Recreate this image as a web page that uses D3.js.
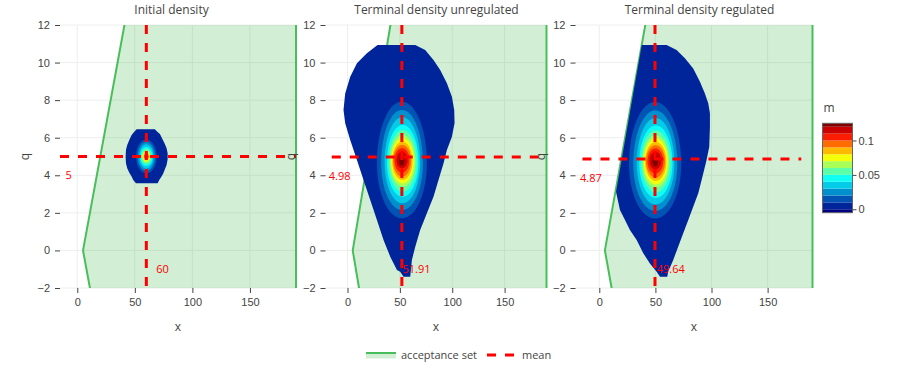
<!DOCTYPE html>
<html>
<head>
<meta charset="utf-8">
<script src="https://cdn.jsdelivr.net/npm/d3@7"></script>
<style>
  body { margin: 0; background: #fff; }
  svg { font-family: "Open Sans", verdana, arial, sans-serif; }
</style>
</head>
<body>
<svg id="chart" width="900" height="380"></svg>
<script>
// ---------- data ----------
const titles = ["Initial density", "Terminal density unregulated", "Terminal density regulated"];
const xTicks = [0, 50, 100, 150];
const qTicks = [-2, 0, 2, 4, 6, 8, 10, 12];
const cbTicks = [0, 0.05, 0.1];

// contour levels of the density m
const contourLevels = [0, 0.01, 0.02, 0.03, 0.04, 0.05, 0.06, 0.07, 0.08, 0.09, 0.1, 0.11, 0.12];

// jet colorscale stops
const jetStops = [
  [0, "rgb(0,0,131)"], [0.125, "rgb(0,60,170)"], [0.375, "rgb(5,255,255)"],
  [0.625, "rgb(255,255,0)"], [0.875, "rgb(250,0,0)"], [1, "rgb(128,0,0)"]
];

// acceptance set polygon (x, q)
const acceptX = [14, 5, 44, 190, 190];
const acceptQ = [-3, 0, 13, 13, -3];

// means
const meanX = [60, 51.91, 49.64];
const meanQ = [5, 4.98, 4.87];
const meanLineXStart = [-15, -15, -15];
const meanLineXEnd = [190, 190, 180];

// outline of the support (m >= 0), [x, q]
const outlineInitial = [
  [51.6, 6.45], [67.4, 6.45], [69.5, 6.32], [71.8, 6.2], [73.2, 6.02], [74.7, 5.84], [76.1, 5.67],
  [77.6, 5.44], [78.5, 5.17], [78.5, 4.85], [77.6, 4.55], [76.1, 4.32], [74.7, 4.1], [73.2, 3.93],
  [71.2, 3.75], [69.8, 3.57], [51.0, 3.57], [48.6, 3.75], [47.2, 3.93], [45.2, 4.14], [43.4, 4.37],
  [42.3, 4.64], [42.0, 4.99], [42.3, 5.35], [43.4, 5.61], [45.2, 5.88], [47.2, 6.14], [49.5, 6.32]
];
const outlineUnreg = [
  [28.7, 10.94], [64.7, 10.94], [74.2, 10.67], [82.1, 10.14], [88.5, 9.6], [94.9, 8.9], [99.7, 8.18],
  [101.9, 7.48], [102.2, 6.77], [99.7, 6.05], [94.9, 5.35], [91.7, 4.64], [86.9, 3.75], [82.1, 2.86],
  [75.8, 1.98], [69.4, 1.09], [64.7, 0.2], [61.5, -0.51], [59.9, -1.4], [53.5, -1.4], [50.3, -1.13],
  [47.2, -1.04], [40.8, -0.33], [34.4, 0.56], [28.1, 1.62], [21.7, 2.68], [15.3, 3.75], [9.0, 4.81],
  [2.6, 5.88], [-2.2, 6.77], [-3.8, 7.48], [-2.2, 8.36], [2.6, 9.25], [9.0, 9.96], [18.5, 10.49]
];
const outlineReg = [
  [37.8, 10.94], [60.0, 10.94], [68.9, 10.67], [76.3, 10.23], [83.7, 9.69], [89.7, 8.98], [94.1, 8.36],
  [97.1, 7.83], [98.6, 7.3], [98.6, 6.59], [98.0, 5.52], [95.6, 4.81], [91.2, 3.75], [88.2, 3.04],
  [83.7, 2.33], [79.3, 1.62], [74.8, 0.91], [70.3, 0.2], [65.9, -0.51], [61.4, -1.13], [60.6, -1.4],
  [54.1, -1.4], [51.1, -1.13], [45.1, -0.69], [39.2, -0.15], [33.3, 0.56], [27.3, 1.09], [22.9, 1.62],
  [18.4, 2.15], [14.9, 3.13]
];

// level sets m >= 0.01 ... 0.12 : [xLeft, xRight, qTop, qBottom, qWidest]
const bandsInitial = [
  [51.0, 69.0, 5.90, 4.10, 5.0], [52.5, 67.5, 5.77, 4.23, 5.0], [53.8, 66.2, 5.65, 4.35, 5.0],
  [54.6, 65.4, 5.51, 4.49, 5.0], [55.7, 64.3, 5.42, 4.58, 5.0], [56.2, 63.8, 5.33, 4.67, 5.0],
  [57.0, 63.0, 5.27, 4.73, 5.0], [57.5, 62.5, 5.21, 4.79, 5.0], [58.0, 62.0, 5.17, 4.83, 5.0],
  [58.4, 61.6, 5.12, 4.88, 5.0], [58.7, 61.3, 5.09, 4.91, 5.0], [59.1, 60.9, 5.07, 4.93, 5.0]
];
const bandsUnreg = [
  [28.1, 75.8, 7.92, 1.71, 4.65], [32.2, 72.0, 7.48, 2.15, 4.65], [35.4, 69.4, 7.09, 2.51, 4.7],
  [37.6, 67.8, 6.68, 2.86, 4.7], [39.2, 66.3, 6.41, 3.13, 4.7], [40.5, 64.7, 6.14, 3.39, 4.75],
  [41.7, 63.4, 5.97, 3.57, 4.75], [42.7, 62.1, 5.79, 3.75, 4.75], [43.6, 60.8, 5.61, 3.93, 4.8],
  [44.9, 59.2, 5.44, 4.14, 4.8], [46.8, 57.3, 5.26, 4.37, 4.8], [49.2, 54.4, 5.15, 4.5, 4.8]
];
const bandsReg = [
  [26.5, 73.0, 7.90, 1.70, 4.6], [30.3, 69.5, 7.45, 2.10, 4.6], [33.4, 66.9, 7.05, 2.45, 4.65],
  [35.6, 65.2, 6.65, 2.80, 4.65], [37.2, 63.7, 6.38, 3.08, 4.7], [38.6, 62.2, 6.12, 3.34, 4.7],
  [39.8, 61.0, 5.95, 3.52, 4.72], [40.8, 59.8, 5.77, 3.70, 4.72], [41.7, 58.6, 5.60, 3.88, 4.75],
  [43.0, 57.0, 5.43, 4.10, 4.75], [44.8, 55.2, 5.25, 4.32, 4.78], [47.3, 52.3, 5.13, 4.47, 4.78]
];

const outlines = [outlineInitial, outlineUnreg, outlineReg];
const bands = [bandsInitial, bandsUnreg, bandsReg];

// ---------- layout ----------
const svg = d3.select("#chart");
const plotTop = 25, plotBottom = 288;
const panels = [
  { left: 60, right: 296, xMin: -15, titleX: 171.5 },
  { left: 325.5, right: 546.5, xMin: -21, titleX: 436.5 },
  { left: 575.5, right: 812.5, xMin: -21.2, titleX: 699.5 }
];
const xMax = 190;
const textColor = "#444";
const green = "rgb(72,190,90)";
const greenFill = "rgba(60,180,75,0.23)";

const y = d3.scaleLinear().domain([-2, 12]).range([plotBottom, plotTop]);

// jet colour for band k out of 14 (k=0 below first level, k=13 above last)
const jet = d3.scaleLinear()
  .domain(jetStops.map(d => d[0]))
  .range(jetStops.map(d => d[1]))
  .interpolate(d3.interpolateRgb);
const nBands = contourLevels.length + 1;
const bandColor = k => jet(k / (nBands - 1));

// egg shaped closed curve for one level set
function eggPoints(b) {
  const [xl, xr, qt, qb, qm] = b;
  const cx = (xl + xr) / 2, rx = (xr - xl) / 2;
  const pts = [];
  for (let i = 0; i < 90; i++) {
    const t = i / 90 * 2 * Math.PI;
    const s = Math.sin(t);
    pts.push([cx + rx * Math.cos(t), qm + (s > 0 ? qt - qm : qm - qb) * s]);
  }
  return pts;
}

const defs = svg.append("defs");

panels.forEach((p, i) => {
  const x = d3.scaleLinear().domain([p.xMin, xMax]).range([p.left, p.right]);
  const line = d3.line().x(d => x(d[0])).y(d => y(d[1])).curve(d3.curveLinearClosed);
  const g = svg.append("g");

  defs.append("clipPath").attr("id", "clip" + i)
    .append("rect")
    .attr("x", p.left - 3).attr("y", plotTop)
    .attr("width", p.right - p.left + 6).attr("height", plotBottom - plotTop);

  // grid
  g.append("g").selectAll("line").data(xTicks).join("line")
    .attr("x1", d => x(d)).attr("x2", d => x(d))
    .attr("y1", plotTop).attr("y2", plotBottom)
    .attr("stroke", "#eee");
  g.append("g").selectAll("line").data(qTicks).join("line")
    .attr("x1", p.left).attr("x2", p.right)
    .attr("y1", d => y(d)).attr("y2", d => y(d))
    .attr("stroke", "#eee");

  const plot = g.append("g").attr("clip-path", `url(#clip${i})`);

  // acceptance set
  const accept = acceptX.map((v, j) => [v, acceptQ[j]]);
  plot.append("path").attr("d", line(accept))
    .attr("fill", greenFill).attr("stroke", green).attr("stroke-width", 2);

  // density: support then the level sets
  plot.append("path").attr("d", line(outlines[i]))
    .attr("fill", bandColor(1));
  plot.append("g").selectAll("path").data(bands[i]).join("path")
    .attr("d", b => line(eggPoints(b)))
    .attr("fill", (b, j) => bandColor(j + 2));

  // mean lines
  g.append("line")
    .attr("x1", x(meanLineXStart[i])).attr("x2", x(meanLineXEnd[i]))
    .attr("y1", y(meanQ[i])).attr("y2", y(meanQ[i]))
    .attr("stroke", "red").attr("stroke-width", 3).attr("stroke-dasharray", "9,9");
  g.append("line")
    .attr("x1", x(meanX[i])).attr("x2", x(meanX[i]))
    .attr("y1", y(12)).attr("y2", y(-2))
    .attr("stroke", "red").attr("stroke-width", 3).attr("stroke-dasharray", "9,9");

  // mean annotations
  g.append("text")
    .attr("x", x(meanX[i] + 14)).attr("y", y(-1)).attr("dy", "0.35em")
    .attr("text-anchor", "middle").attr("fill", "red").attr("font-size", 11)
    .text(String(meanX[i]));
  g.append("text")
    .attr("x", x(-7.5)).attr("y", y(meanQ[i] - 1)).attr("dy", "0.35em")
    .attr("text-anchor", "middle").attr("fill", "red").attr("font-size", 11)
    .text(String(meanQ[i]));

  // axes
  const ax = g.append("g").attr("transform", `translate(0,${plotBottom})`)
    .style("color", textColor)
    .call(d3.axisBottom(x).tickValues(xTicks).tickSize(5).tickPadding(5));
  ax.select(".domain").remove();
  ax.selectAll("text").attr("font-size", 11).attr("font-family", null);

  const ay = g.append("g").attr("transform", `translate(${p.left},0)`)
    .style("color", textColor)
    .call(d3.axisLeft(y).tickValues(qTicks).tickSize(5).tickPadding(5));
  ay.select(".domain").remove();
  ay.selectAll("text").attr("font-size", 11).attr("font-family", null);

  // titles
  g.append("text")
    .attr("x", p.titleX).attr("y", 14)
    .attr("text-anchor", "middle").attr("fill", textColor).attr("font-size", 12)
    .text(titles[i]);
  g.append("text")
    .attr("x", (p.left + p.right) / 2).attr("y", 331)
    .attr("text-anchor", "middle").attr("fill", textColor).attr("font-size", 12)
    .text("x");
});

// y axis titles on top of everything
panels.forEach(p => {
  svg.append("text")
    .attr("transform", `translate(${p.left - 35},${(plotTop + plotBottom) / 2}) rotate(-90)`)
    .attr("dy", "0.35em")
    .attr("text-anchor", "middle").attr("fill", textColor).attr("font-size", 12)
    .text("q");
});

// ---------- colorbar ----------
const cbLeft = 822.5, cbWidth = 30;
const cb = d3.scaleLinear().domain([-0.005, 0.125]).range([212.7, 123.3]);
const cbEdges = [-0.005].concat(contourLevels, [0.125]);
const cbG = svg.append("g");
cbG.selectAll("rect").data(d3.range(nBands)).join("rect")
  .attr("x", cbLeft).attr("width", cbWidth)
  .attr("y", k => cb(cbEdges[k + 1]))
  .attr("height", k => cb(cbEdges[k]) - cb(cbEdges[k + 1]))
  .attr("fill", k => bandColor(k));
cbG.append("rect")
  .attr("x", cbLeft).attr("y", cb(0.125)).attr("width", cbWidth)
  .attr("height", cb(-0.005) - cb(0.125))
  .attr("fill", "none").attr("stroke", "#666").attr("stroke-width", 1);
const cbAxis = cbG.append("g").attr("transform", `translate(${cbLeft + cbWidth},0)`)
  .style("color", textColor)
  .call(d3.axisRight(cb).tickValues(cbTicks).tickSize(4).tickPadding(2).tickFormat(d3.format("")));
cbAxis.select(".domain").remove();
cbAxis.selectAll("text").attr("font-size", 11).attr("font-family", null);
cbG.append("text").attr("x", cbLeft + 1).attr("y", 112)
  .attr("fill", textColor).attr("font-size", 12).text("m");

// ---------- legend ----------
const lg = svg.append("g");
lg.append("rect").attr("x", 366).attr("y", 352.5).attr("width", 30).attr("height", 6)
  .attr("fill", greenFill);
lg.append("line").attr("x1", 366).attr("x2", 396).attr("y1", 353).attr("y2", 353)
  .attr("stroke", green).attr("stroke-width", 2);
lg.append("text").attr("x", 401).attr("y", 355).attr("dy", "0.35em")
  .attr("fill", textColor).attr("font-size", 11).text("acceptance set");
lg.append("line").attr("x1", 487).attr("x2", 517).attr("y1", 355).attr("y2", 355)
  .attr("stroke", "red").attr("stroke-width", 3).attr("stroke-dasharray", "9,9");
lg.append("text").attr("x", 522).attr("y", 355).attr("dy", "0.35em")
  .attr("fill", textColor).attr("font-size", 11).text("mean");
</script>
</body>
</html>
